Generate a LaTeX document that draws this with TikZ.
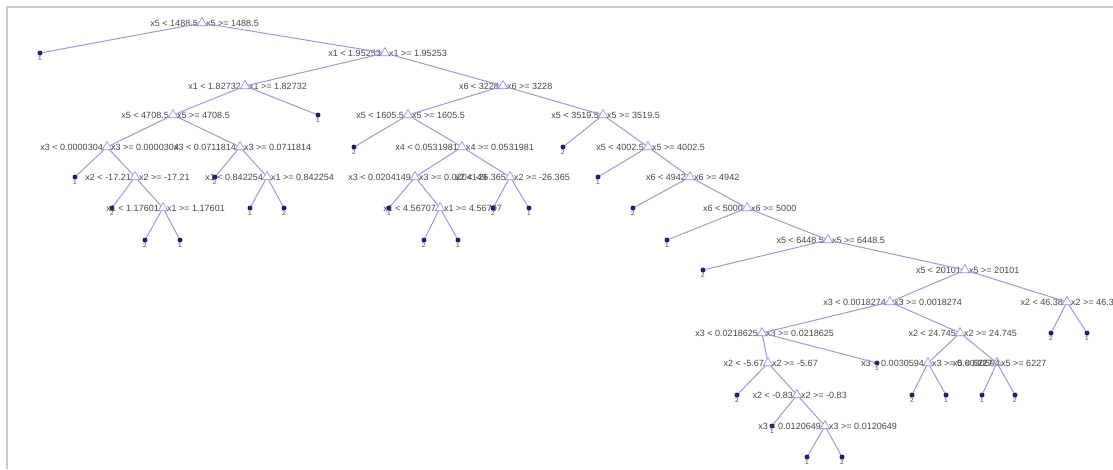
\documentclass[tikz,border=0pt]{standalone}
\usepackage{fontspec}
\setmainfont{Liberation Sans}
\usetikzlibrary{shapes.geometric}
\definecolor{edgec}{HTML}{9A9AE6}
\definecolor{tric}{HTML}{8C8CF0}
\definecolor{leafc}{HTML}{202070}
\definecolor{txtc}{HTML}{484848}
\definecolor{framec}{HTML}{C8C8C8}
\newcommand\mybr[5]{\node[branch,label={[ltxt,anchor=east]180:{#4}},label={[ltxt,anchor=west]0:{#5}}] (#1) at (#2,#3) {};}
\newcommand\myleaf[4]{\node[leaf,label={[lbl]below:#4}] (#1) at (#2,#3) {};}
\begin{document}
\begin{tikzpicture}[x=1pt,y=-1pt,
 branch/.style={regular polygon,regular polygon sides=3,draw=tric,line width=0.6pt,minimum size=11pt,inner sep=0pt},
 leaf/.style={circle,fill=leafc,minimum size=5pt,inner sep=0pt},
 edge/.style={edgec,line width=1pt},
 ltxt/.style={font=\fontsize{9}{10}\selectfont,text=txtc,inner sep=0.5pt},
 lbl/.style={font=\fontsize{6.5}{7}\selectfont,text=txtc,inner sep=0.5pt},
]
\useasboundingbox (0,0) rectangle (1113,469);
\fill[white] (0,0) rectangle (1113,469);
\draw[framec,line width=1.5pt] (7,469) -- (7,7) -- (1113,7);
\mybr{r}{202}{23}{x5 < 1488.5}{x5 >= 1488.5}
\myleaf{l1}{40}{53}{1}
\mybr{a}{385}{53}{x1 < 1.95253}{x1 >= 1.95253}
\mybr{b}{245}{86}{x1 < 1.82732}{x1 >= 1.82732}
\mybr{c}{503}{86}{x6 < 3228}{x6 >= 3228}
\mybr{d}{173}{115}{x5 < 4708.5}{x5 >= 4708.5}
\myleaf{l2}{318}{115}{1}
\mybr{e}{408}{115}{x5 < 1605.5}{x5 >= 1605.5}
\mybr{f}{603}{115}{x5 < 3519.5}{x5 >= 3519.5}
\mybr{g}{107}{147}{x3 < 0.0000304}{x3 >= 0.0000304}
\mybr{h}{240}{147}{x3 < 0.0711814}{x3 >= 0.0711814}
\myleaf{l3}{354}{147}{2}
\mybr{i}{462}{147}{x4 < 0.0531981}{x4 >= 0.0531981}
\myleaf{l4}{563}{147}{2}
\mybr{j}{648}{147}{x5 < 4002.5}{x5 >= 4002.5}
\myleaf{l5}{75}{177}{1}
\mybr{k}{135}{177}{x2 < -17.21}{x2 >= -17.21}
\myleaf{l6}{215}{177}{2}
\mybr{m}{267}{177}{x1 < 0.842254}{x1 >= 0.842254}
\mybr{n}{415}{177}{x3 < 0.0204149}{x3 >= 0.0204149}
\mybr{o}{510}{177}{x2 < -26.365}{x2 >= -26.365}
\myleaf{l7}{598}{177}{1}
\mybr{p}{690}{177}{x6 < 4942}{x6 >= 4942}
\myleaf{l8}{112}{208}{2}
\mybr{q}{163}{208}{x1 < 1.17601}{x1 >= 1.17601}
\myleaf{l9}{250}{208}{1}
\myleaf{l10}{284}{208}{2}
\myleaf{l11}{389}{208}{1}
\mybr{s}{440}{208}{x1 < 4.56707}{x1 >= 4.56707}
\myleaf{l12}{493}{208}{2}
\myleaf{l13}{529}{208}{1}
\myleaf{l14}{633}{208}{2}
\mybr{t}{747}{208}{x6 < 5000}{x6 >= 5000}
\myleaf{l15}{145}{240}{2}
\myleaf{l16}{180}{240}{1}
\myleaf{l17}{424}{240}{2}
\myleaf{l18}{458}{240}{1}
\myleaf{l19}{667}{240}{1}
\mybr{u}{828}{240}{x5 < 6448.5}{x5 >= 6448.5}
\myleaf{l20}{703}{270}{2}
\mybr{v}{965}{270}{x5 < 20101}{x5 >= 20101}
\mybr{w}{890}{302}{x3 < 0.0018274}{x3 >= 0.0018274}
\mybr{y}{1067}{302}{x2 < 46.38}{x2 >= 46.38}
\mybr{z}{762}{333}{x3 < 0.0218625}{x3 >= 0.0218625}
\mybr{aa}{960}{333}{x2 < 24.745}{x2 >= 24.745}
\myleaf{l21}{1051}{333}{2}
\myleaf{l22}{1087}{333}{1}
\mybr{bb}{768}{363}{x2 < -5.67}{x2 >= -5.67}
\myleaf{l23}{877}{363}{1}
\mybr{cc}{928}{363}{x3 < 0.0030594}{x3 >= 0.0030594}
\mybr{dd}{997}{363}{x5 < 6227}{x5 >= 6227}
\myleaf{l24}{737}{395}{2}
\mybr{ee}{797}{395}{x2 < -0.83}{x2 >= -0.83}
\myleaf{l25}{912}{395}{2}
\myleaf{l26}{946}{395}{1}
\myleaf{l27}{982}{395}{1}
\myleaf{l28}{1015}{395}{2}
\myleaf{l29}{772}{426}{1}
\mybr{ff}{825}{426}{x3 < 0.0120649}{x3 >= 0.0120649}
\myleaf{l30}{807}{457}{1}
\myleaf{l31}{842}{457}{2}
\foreach \pa/\ch in {r/l1,r/a,a/b,a/c,b/d,b/l2,d/g,d/h,g/l5,g/k,k/l8,k/q,q/l15,q/l16,h/l6,h/m,m/l9,m/l10,c/e,c/f,e/l3,e/i,i/n,i/o,n/l11,n/s,s/l17,s/l18,o/l12,o/l13,f/l4,f/j,j/l7,j/p,p/l14,p/t,t/l19,t/u,u/l20,u/v,v/w,v/y,w/z,w/aa,y/l21,y/l22,z/bb,z/l23,bb/l24,bb/ee,ee/l29,ee/ff,ff/l30,ff/l31,aa/cc,aa/dd,cc/l25,cc/l26,dd/l27,dd/l28}
  \draw[edge] (\pa) -- (\ch);
\end{tikzpicture}
\end{document}
